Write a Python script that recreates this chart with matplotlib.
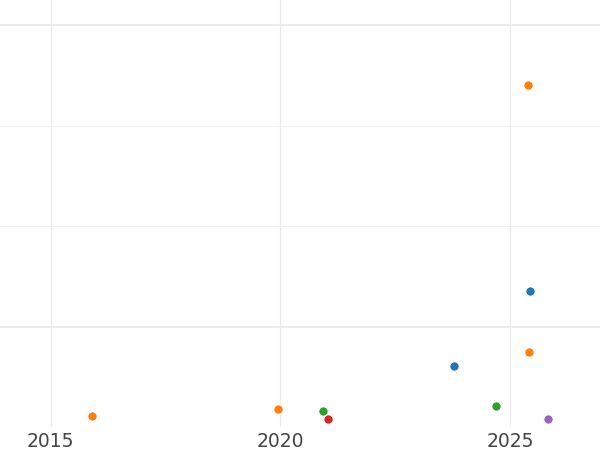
import matplotlib
matplotlib.use("Agg")
import matplotlib.pyplot as plt
from matplotlib.ticker import NullFormatter, FixedLocator

# Data
years = [2025.37, 2025.42, 2025.41, 2023.78, 2024.68, 2025.82, 2015.90, 2019.95, 2020.92, 2021.03]
values = [253, 2.26, 0.564, 0.409, 0.163, 0.121, 0.131, 0.154, 0.146, 0.122]
groups = ["B", "A", "B", "A", "C", "E", "B", "B", "C", "D"]
group_colors = {"A": "#1f77b4", "B": "#ff7f0e", "C": "#2ca02c", "D": "#d62728", "E": "#9467bd"}
xticks = [2015, 2020, 2025]
xtick_labels = ["2015", "2020", "2025"]

fig = plt.figure(figsize=(6, 4.5), dpi=100)
ax = fig.add_axes([0, 1 - 427 / 450, 1, 427 / 450])

for g, c in group_colors.items():
    xs = [x for x, gg in zip(years, groups) if gg == g]
    ys = [y for y, gg in zip(values, groups) if gg == g]
    ax.scatter(xs, ys, s=44, color=c, edgecolor="white", linewidth=0.6, zorder=3)

ax.set_yscale("log")
ax.set_xlim(2013.902, 2026.946)
ax.set_ylim(10 ** -0.994, 10 ** 3.25)

ax.yaxis.set_major_locator(FixedLocator([1, 1000]))
ax.yaxis.set_minor_locator(FixedLocator([10, 100]))
ax.yaxis.set_major_formatter(NullFormatter())
ax.yaxis.set_minor_formatter(NullFormatter())
ax.set_xticks(xticks)
ax.set_xticklabels(xtick_labels)
ax.xaxis.set_minor_locator(FixedLocator([]))

ax.grid(True, which="major", axis="y", color="#ebebeb", linewidth=1.3)
ax.grid(True, which="minor", axis="y", color="#f0f0f0", linewidth=0.7)
ax.grid(True, which="major", axis="x", color="#ebebeb", linewidth=0.8)
ax.set_axisbelow(True)

ax.tick_params(axis="both", which="both", length=0)
ax.tick_params(axis="x", labelsize=13.5, labelcolor="#444444", pad=3.5)
for s in ax.spines.values():
    s.set_visible(False)

fig.savefig("out.png", dpi=100)
